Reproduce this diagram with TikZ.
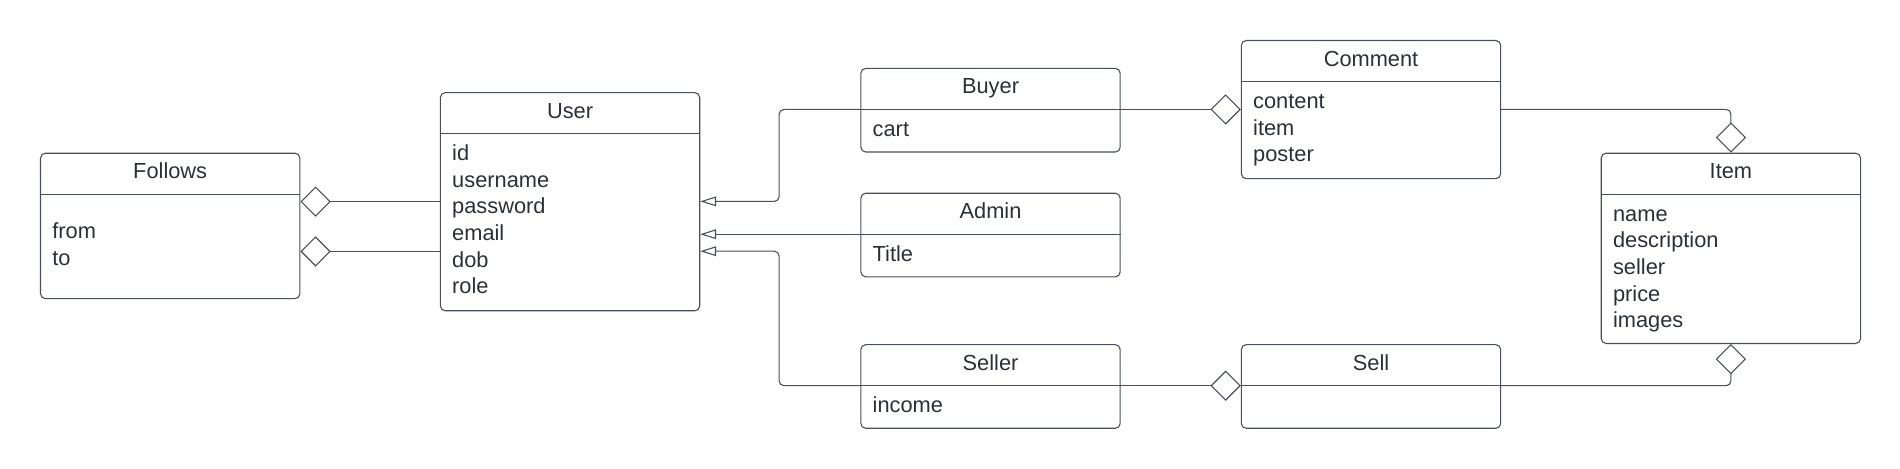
\documentclass[tikz,border=0pt]{standalone}
\usepackage{fontspec}
\setmainfont{Liberation Sans}
\usepackage{xcolor}
\usetikzlibrary{arrows.meta,positioning,calc}

\definecolor{inkline}{HTML}{4A5059}
\definecolor{inktext}{HTML}{2B3038}

\begin{document}
\begin{tikzpicture}[x=1pt, y=-1pt, font=\fontsize{18}{22}\selectfont,
    cls/.style={draw=inkline, line width=0.9pt, rounded corners=4pt, anchor=north west, minimum width=214pt, inner sep=0pt},
    ttl/.style={anchor=base, text=inktext, inner sep=0pt},
    attr/.style={anchor=base west, text=inktext, inner sep=0pt},
    ln/.style={draw=inkline, line width=0.9pt},
    gen/.style={ln, rounded corners=4pt, -{Triangle[open, length=13pt, width=8pt]}},
    agg/.style={ln, rounded corners=4pt, -{Diamond[open, length=25pt, width=25pt]}}]
    \useasboundingbox (0,0) rectangle (1568,387);
    % class boxes
    \foreach \nm/\x/\y/\h/\ttl in {follows/33/126/120/Follows, user/363/76/180/User,
        buyer/710/56/69/Buyer, admin/710/159/69/Admin, seller/710/284/69/Seller,
        comment/1024/33/114/Comment, item/1321/126/157/Item, sell/1024/284/69/Sell}{
        \node[cls, minimum height=\h pt] (\nm) at (\x,\y) {};
        \node[ttl] (\nm-t) at ($(\nm.north)+(0,21.5)$) {\ttl};
        \coordinate (\nm-hl) at ($(\nm.north west)+(0,34.3)$);
        \coordinate (\nm-hr) at ($(\nm.north east)+(0,34.3)$);
        \draw[ln] (\nm-hl) -- (\nm-hr);
    }
    % attributes
    \foreach \a [count=\i from 0] in {from,to}
        \node[attr] (follows-a\i) at ($(follows.north west)+(10,71+22*\i)$) {\a};
    \foreach \a [count=\i from 0] in {id,username,password,email,dob,role}
        \node[attr] (user-a\i) at ($(user.north west)+(10,56.5+22*\i)$) {\a};
    \node[attr] (buyer-a0) at ($(buyer.north west)+(10,56.5)$) {cart};
    \node[attr] (admin-a0) at ($(admin.north west)+(10,56.5)$) {Title};
    \node[attr] (seller-a0) at ($(seller.north west)+(10,56.5)$) {income};
    \foreach \a [count=\i from 0] in {content,item,poster}
        \node[attr] (comment-a\i) at ($(comment.north west)+(10,56.5+22*\i)$) {\a};
    \foreach \a [count=\i from 0] in {name,description,seller,price,images}
        \node[attr] (item-a\i) at ($(item.north west)+(10,56.5+22*\i)$) {\a};
    % connectors
    \draw[agg] ($(user.north west)+(0,90.4)$) -- ($(follows.north east)+(0,40.4)$);
    \draw[agg] ($(user.north west)+(0,131.5)$) -- ($(follows.north east)+(0,81.5)$);
    \draw[gen] (buyer-hl) -- (643,90.3) -- (643,166.2) -- ($(user.north east)+(0,90.2)$);
    \draw[gen] (admin-hl) -- (user.east |- admin-hl);
    \draw[gen] (seller-hl) -- (643,318.3) -- (643,207.3) -- ($(user.north east)+(0,131.3)$);
    \draw[agg] (buyer-hr) -- (comment.west |- buyer-hr);
    \draw[agg] (seller-hr) -- (sell-hl);
    \draw[agg] (comment.east |- buyer-hr) -- (item.north |- buyer-hr) -- (item.north);
    \draw[agg] (sell-hr) -- (item.south |- sell-hr) -- (item.south);
\end{tikzpicture}
\end{document}
